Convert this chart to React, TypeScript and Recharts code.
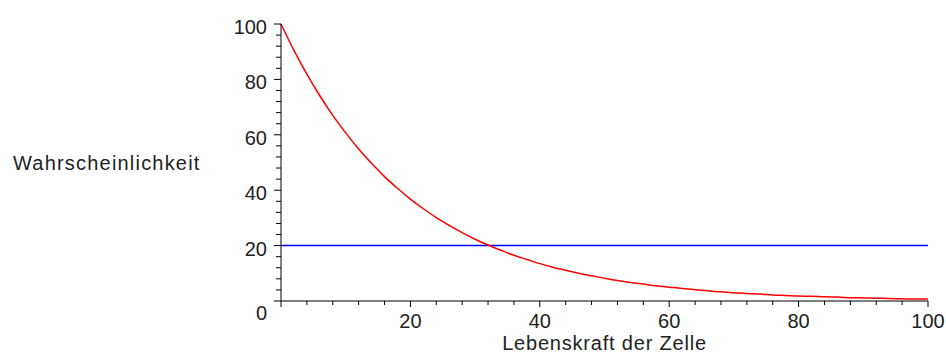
import React from "react";
import { LineChart, Line, XAxis, YAxis, ReferenceLine } from "recharts";

const lifeForce = [
  0, 2, 4, 6, 8, 10, 12, 14, 16, 18, 20, 22, 24, 26, 28, 30, 32, 34, 36, 38, 40, 42, 44, 46, 48, 50,
  52, 54, 56, 58, 60, 62, 64, 66, 68, 70, 72, 74, 76, 78, 80, 82, 84, 86, 88, 90, 92, 94, 96, 98, 100,
];
const probability = [
  100, 90.5, 81.9, 74.1, 67.0, 60.7, 54.9, 49.7, 44.9, 40.7, 36.8, 33.3, 30.1, 27.3, 24.7, 22.3,
  20.2, 18.3, 16.5, 15.0, 13.5, 12.2, 11.1, 10.0, 9.1, 8.2, 7.4, 6.7, 6.1, 5.5, 5.0, 4.5, 4.1, 3.7,
  3.3, 3.0, 2.7, 2.5, 2.2, 2.0, 1.8, 1.7, 1.5, 1.4, 1.2, 1.1, 1.0, 0.9, 0.8, 0.7, 0.7,
];
const threshold = 20;

const axisTicks = [
  0, 4, 8, 12, 16, 20, 24, 28, 32, 36, 40, 44, 48, 52, 56, 60, 64, 68, 72, 76, 80, 84, 88, 92, 96, 100,
];
const xLabels = [20, 40, 60, 80, 100];
const yLabels = [0, 20, 40, 60, 80, 100];

const font = "'Liberation Sans', Arial, sans-serif";
const textStyle = { fontFamily: font, fontSize: 20, fill: "#222" };

const XTick = (props: any) => {
  const { x, y, payload } = props;
  const v = payload.value;
  const major = v % 20 === 0;
  return (
    <g>
      <line x1={x} x2={x} y1={y} y2={y + (major ? 6 : 4)} stroke="#000" />
      {xLabels.includes(v) && (
        <text x={x} y={y + 27} textAnchor="middle" style={textStyle}>
          {v}
        </text>
      )}
    </g>
  );
};

const YTick = (props: any) => {
  const { x, y, payload } = props;
  const v = payload.value;
  const major = v % 20 === 0;
  return (
    <g>
      <line x1={x - (major ? 7 : 5)} x2={x} y1={y} y2={y} stroke="#000" />
      {yLabels.includes(v) && (
        <text x={x - 14} y={y + (v === 0 ? 19 : 10)} textAnchor="end" style={textStyle}>
          {v}
        </text>
      )}
    </g>
  );
};

export default function App() {
  const data = lifeForce.map((x, i) => ({ x, p: probability[i] }));

  return (
    <div style={{ position: "absolute", left: 0, top: 0, background: "#fff" }}>
      <LineChart
        width={946}
        height={354}
        data={data}
        margin={{ top: 24, right: 18, bottom: 0, left: 0 }}
      >
        <XAxis
          dataKey="x"
          type="number"
          domain={[0, 100]}
          ticks={axisTicks}
          interval={0}
          tickSize={0}
          tickMargin={0}
          tick={<XTick />}
          height={53}
          axisLine={{ stroke: "#000" }}
          label={{
            value: "Lebenskraft der Zelle",
            position: "insideBottom",
            offset: 4,
            style: { ...textStyle, letterSpacing: 0.8 },
          }}
        />
        <YAxis
          type="number"
          domain={[0, 100]}
          ticks={axisTicks}
          interval={0}
          tickSize={0}
          tickMargin={0}
          tick={<YTick />}
          width={281}
          axisLine={{ stroke: "#000" }}
          label={{
            value: "Wahrscheinlichkeit",
            position: "insideLeft",
            offset: 13,
            style: { ...textStyle, letterSpacing: 1.2 },
          }}
        />
        <ReferenceLine y={threshold} stroke="#0000ff" strokeWidth={1.5} />
        <Line
          type="monotone"
          dataKey="p"
          stroke="#ff0000"
          strokeWidth={1.5}
          dot={false}
          isAnimationActive={false}
        />
      </LineChart>
    </div>
  );
}
